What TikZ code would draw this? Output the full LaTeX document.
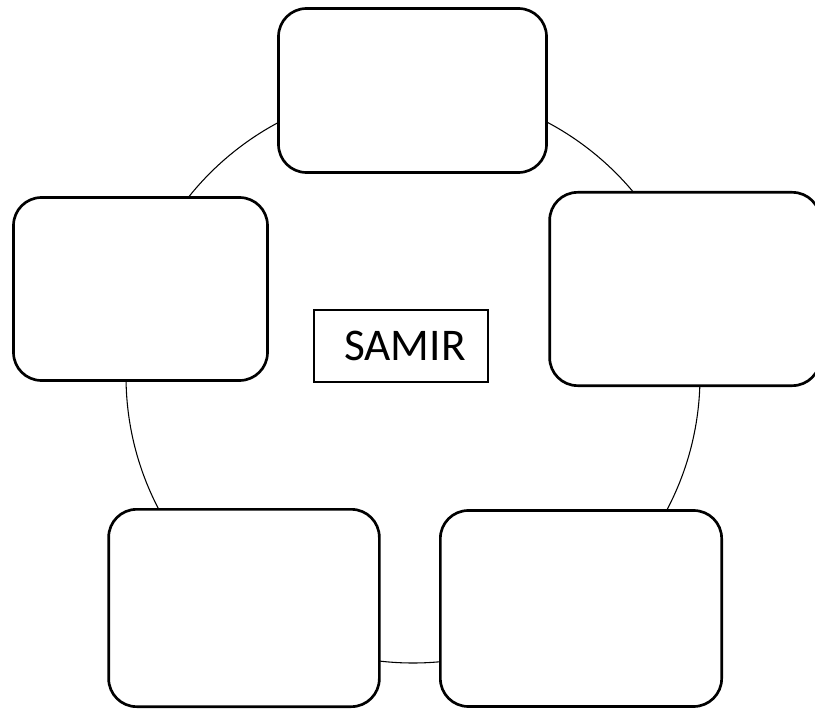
\documentclass[tikz,border=0pt]{standalone}
\usepackage{fontspec}
\setmainfont{Carlito}
\begin{document}
\begin{tikzpicture}[x=0.75pt,y=-0.75pt,
  rbox/.style={draw=black, line width=2pt, fill=white, rounded corners=21pt, inner sep=0pt},
  ring/.style={draw=black, line width=0.8pt, circle, inner sep=0pt, minimum size=430.5pt},
  namebox/.style={draw=black, line width=1.5pt, fill=white, inner sep=0pt, font=\fontsize{34}{40}\selectfont}]
\useasboundingbox (0,0) rectangle (815,710);
\node[ring] (ring) at (413,376) {};
\node[rbox, minimum width=201pt, minimum height=123pt] (top) at (412.5,90.5) {};
\node[rbox, minimum width=190.5pt, minimum height=137.25pt] (left) at (140.5,289) {};
\node[rbox, minimum width=203pt, minimum height=145pt] (right) at (685,289) {};
\node[rbox, minimum width=203pt, minimum height=148pt] (botleft) at (244,608) {};
\node[rbox, minimum width=211pt, minimum height=147pt] (botright) at (581,608.5) {};
\node[namebox, minimum width=130.5pt, minimum height=54pt] (samir) at (401,346) {\kern6pt SAMIR};
\end{tikzpicture}
\end{document}
